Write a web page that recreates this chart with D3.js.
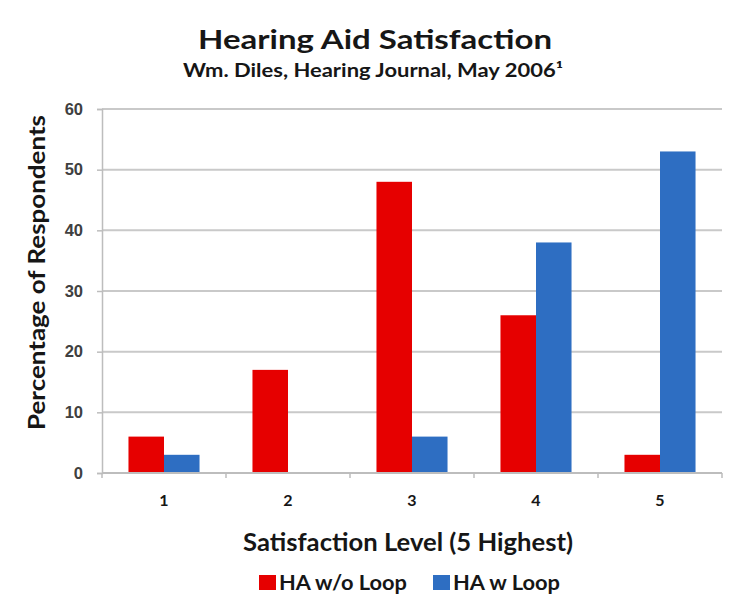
<!DOCTYPE html>
<html>
<head>
<meta charset="utf-8">
<script src="https://cdn.jsdelivr.net/npm/d3@7"></script>
<style>
  html, body { margin: 0; padding: 0; background: #fff; }
  svg { display: block; font-family: Lato, "Open Sans", sans-serif; }
</style>
</head>
<body>
<svg id="chart" width="731" height="601"></svg>
<script>
// Satisfaction levels 1..5 and the share of respondents for each group
const levels = ["1", "2", "3", "4", "5"];
const seriesNames = ["HA w/o Loop", "HA w Loop"];
const withoutLoop = [6, 17, 48, 26, 3];
const withLoop = [3, 0, 6, 38, 53];
const yTicks = [0, 10, 20, 30, 40, 50, 60];
const colors = ["#e60000", "#2e6ec2"];

const rows = levels.map((lvl, i) => ({ level: lvl, values: [withoutLoop[i], withLoop[i]] }));

const svg = d3.select("#chart");
const plot = { left: 102, right: 722, top: 109, bottom: 473 };
const ink = "#161616";

const x0 = d3.scaleBand().domain(levels).range([plot.left, plot.right])
  .paddingInner(0.427).paddingOuter(0.2135);
const x1 = d3.scaleBand().domain(seriesNames).range([0, x0.bandwidth()]);
const y = d3.scaleLinear().domain([0, 60]).range([plot.bottom, plot.top]);
const color = d3.scaleOrdinal().domain(seriesNames).range(colors);

// Horizontal gridlines
svg.append("g")
  .selectAll("line")
  .data(yTicks.filter(t => t > 0))
  .join("line")
  .attr("x1", plot.left).attr("x2", plot.right)
  .attr("y1", d => y(d)).attr("y2", d => y(d))
  .attr("stroke", "#c9c9c9").attr("stroke-width", 2);

// Y axis
const yAxis = svg.append("g")
  .attr("transform", `translate(${plot.left},0)`)
  .call(d3.axisLeft(y).tickValues(yTicks).tickSize(5).tickPadding(14));
yAxis.select(".domain").attr("stroke", "#bdbdbd").attr("stroke-width", 1.5);
yAxis.selectAll(".tick line").attr("stroke", "#bdbdbd").attr("stroke-width", 1.5);
yAxis.selectAll("text").attr("font-size", 16.5).attr("font-weight", "bold").attr("fill", "#404040");

// Bars
svg.append("g")
  .selectAll("g")
  .data(rows)
  .join("g")
  .attr("transform", d => `translate(${x0(d.level)},0)`)
  .selectAll("rect")
  .data(d => d.values.map((v, k) => ({ key: seriesNames[k], value: v })))
  .join("rect")
  .attr("x", d => x1(d.key))
  .attr("width", x1.bandwidth())
  .attr("y", d => y(d.value))
  .attr("height", d => y(0) - y(d.value))
  .attr("fill", d => color(d.key));

// X axis baseline with tick marks at category boundaries
const step = x0.step();
const boundaries = levels.map(l => x0(l) - step * x0.paddingInner() / 2);
boundaries.push(plot.right);
const xAxisG = svg.append("g");
xAxisG.append("line")
  .attr("x1", plot.left).attr("x2", plot.right)
  .attr("y1", y(0)).attr("y2", y(0))
  .attr("stroke", "#bdbdbd").attr("stroke-width", 2);
xAxisG.selectAll("line.tick")
  .data(boundaries)
  .join("line")
  .attr("class", "tick")
  .attr("x1", d => d).attr("x2", d => d)
  .attr("y1", y(0)).attr("y2", y(0) + 5)
  .attr("stroke", "#bdbdbd").attr("stroke-width", 1.5);
xAxisG.selectAll("text")
  .data(levels)
  .join("text")
  .attr("x", d => x0(d) + x0.bandwidth() / 2)
  .attr("y", 506)
  .attr("text-anchor", "middle")
  .attr("font-size", 16).attr("font-weight", "bold").attr("fill", ink)
  .text(d => d);

// Titles (widths set so the lettering spans the same space as the layout)
function label(x, yy, size, length, str) {
  return svg.append("text")
    .attr("x", x).attr("y", yy)
    .attr("text-anchor", "middle")
    .attr("font-size", size).attr("font-weight", "bold").attr("fill", ink)
    .attr("textLength", length).attr("lengthAdjust", "spacingAndGlyphs")
    .text(str);
}
label(375, 49, 27, 354, "Hearing Aid Satisfaction");
label(373, 77, 19.5, 380, "Wm. Diles, Hearing Journal, May 2006\u00B9");
label(408, 551, 24.5, 330, "Satisfaction Level (5 Highest)");

svg.append("text")
  .attr("transform", `translate(45,272.5) rotate(-90)`)
  .attr("text-anchor", "middle")
  .attr("font-size", 23).attr("font-weight", "bold").attr("fill", ink)
  .attr("textLength", 315).attr("lengthAdjust", "spacingAndGlyphs")
  .text("Percentage of Respondents");

// Legend
const legendX = [259, 433];
const legendLen = [128, 107];
const legend = svg.append("g")
  .selectAll("g")
  .data(seriesNames)
  .join("g")
  .attr("transform", (d, i) => `translate(${legendX[i]},575)`);
legend.append("rect")
  .attr("width", 17).attr("height", 15)
  .attr("fill", d => color(d));
legend.append("text")
  .attr("x", 20).attr("y", 15)
  .attr("font-size", 21.5).attr("font-weight", "bold").attr("fill", ink)
  .attr("textLength", (d, i) => legendLen[i]).attr("lengthAdjust", "spacingAndGlyphs")
  .text(d => d);
</script>
</body>
</html>
